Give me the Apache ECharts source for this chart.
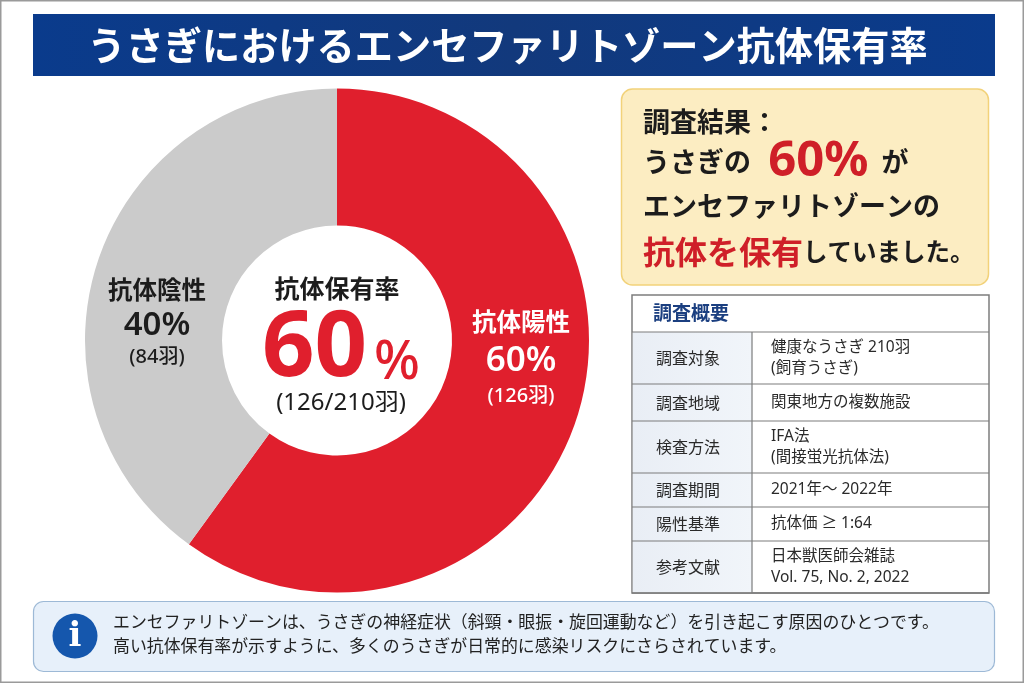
<!DOCTYPE html>
<html><head><meta charset="utf-8">
<style>html,body{margin:0;padding:0;background:#fff}#c{width:1024px;height:683px}</style>
<script src="https://cdn.jsdelivr.net/npm/echarts@6/dist/echarts.min.js"></script>
</head><body><div id="c"></div>
<script>
const FONT='"Noto Sans CJK JP","Noto Sans",sans-serif';
const LATIN='"Noto Sans","Noto Sans CJK JP",sans-serif';
const titleText='うさぎにおけるエンセファリトゾーン抗体保有率';
const sliceNames=['抗体陽性','抗体陰性'];
const sliceValues=[126,84];
const slicePercents=['60%','40%'];
const sliceCounts=['(126羽)','(84羽)'];
const centerHead='抗体保有率';
const centerBig='60';
const centerUnit='%';
const centerSub='(126/210羽)';
const tableTitle='調査概要';
const tableLabels=['調査対象','調査地域','検査方法','調査期間','陽性基準','参考文献'];
const tableValues=['健康なうさぎ 210羽\n(飼育うさぎ)','関東地方の複数施設','IFA法\n(間接蛍光抗体法)','2021年〜 2022年','抗体価 ≥ 1:64','日本獣医師会雑誌\nVol. 75, No. 2, 2022'];
const rowEdges=[332,384,421,473,507,541,593];
const noteLines=['エンセファリトゾーンは、うさぎの神経症状（斜頸・眼振・旋回運動など）を引き起こす原因のひとつです。','高い抗体保有率が示すように、多くのうさぎが日常的に感染リスクにさらされています。'];

const T=(x,y,text,size,fill,weight,align,extra)=>({type:'text',x,y,silent:true,style:Object.assign({text,fontFamily:FONT,fontSize:size,fill,fontWeight:weight||400,align:align||'left',verticalAlign:'middle'},extra||{})});
const R=(x,y,w,h,fill,stroke,lw,r)=>({type:'rect',silent:true,shape:{x,y,width:w,height:h,r:r||0},style:{fill,stroke:stroke||null,lineWidth:lw||0}});

const g=[];
g.push(R(0.5,0.5,1023,682,'none','#9a9a9a',2));
g.push(R(33,14,962,62,{type:'linear',x:0,y:0,x2:1,y2:0,colorStops:[{offset:0,color:'#0a3b8c'},{offset:.5,color:'#12397c'},{offset:1,color:'#0a3b8c'}]}));
g.push(T(507.5,45,titleText,38.2,'#fff',700,'center'));
// callout
g.push(R(621.5,89,367,196,'#fcedc2','#f2d27a',1.5,11));
const blk='#1c1c1c',red='#cf1f28';
g.push(T(643,122,'調査結果：',27,blk,600));
g.push({type:'text',x:643,y:162,silent:true,style:{fontFamily:FONT,verticalAlign:'middle',align:'left',
 text:'{a|うさぎの }{b|60%}{a| が}',rich:{a:{fontFamily:FONT,fontSize:27,fontWeight:600,fill:blk},b:{fontFamily:'"Noto Sans",sans-serif',fontSize:49,fontWeight:700,fill:red,padding:[0,7,0,11]}}}});
g.push(T(643,206,'エンセファリトゾーンの',27,blk,600));
g.push({type:'text',x:643,y:252,silent:true,style:{fontFamily:FONT,verticalAlign:'middle',align:'left',
 text:'{r|抗体を保有}{a|していました。}',rich:{a:{fontFamily:FONT,fontSize:24.5,fontWeight:600,fill:blk},r:{fontFamily:FONT,fontSize:32,fontWeight:700,fill:red}}}});
// table
g.push(R(632,295,357,298,'#fff','#7d7d7d',1.5));
g.push(T(653,313,tableTitle,19,'#1b3f80',700));
g.push(R(632.8,332,119.5,260.2,{type:'linear',x:0,y:0,x2:1,y2:0,colorStops:[{offset:0,color:'#e9eef5'},{offset:1,color:'#f1f5fa'}]}));
rowEdges.forEach((e,i)=>{
 g.push({type:'line',silent:true,shape:{x1:632,y1:e,x2:989,y2:e},style:{stroke:'#7d7d7d',lineWidth:i==6?1.5:1.2}});
 if(i<6){const m=(e+rowEdges[i+1])/2;
  g.push(T(656,m,tableLabels[i],16,'#2a2a2a',400));
  g.push(T(771,m,tableValues[i],15.5,'#2a2a2a',400,'left',{lineHeight:21,fontFamily:LATIN}));}
});
g.push({type:'line',silent:true,shape:{x1:752,y1:332,x2:752,y2:593},style:{stroke:'#7d7d7d',lineWidth:1.2}});
// note
g.push(R(33.5,601.5,961,70,'#e7f0fa','#9db9d6',1.2,10));
g.push({type:'circle',silent:true,shape:{cx:75,cy:636,r:22.5},style:{fill:'#1557ad'}});
g.push(T(75,637,'i',34,'#fff',700,'center',{fontFamily:'"DejaVu Serif",serif'}));
g.push(T(113,622,noteLines[0],16.9,'#222',400));
g.push(T(113,646,noteLines[1],16.9,'#222',400));
// centre labels
g.push(T(337,288,centerHead,25,'#1c1c1c',600,'center'));
g.push(T(314.5,350,centerBig,92,'#e01f2d',700,'center',{fontFamily:'"Noto Sans",sans-serif'}));
g.push(T(397,364,centerUnit,54,'#e01f2d',500,'center',{fontFamily:'"Noto Sans",sans-serif'}));
g.push(T(341,403,centerSub,24,'#1c1c1c',400,'center',{fontFamily:LATIN}));
// slice labels
const sl=(x,ys,i,c)=>{
 g.push(T(x,ys[0],sliceNames[i],24.5,c,600,'center'));
 g.push(T(x,ys[1],slicePercents[i],i==0?35:33,c,600,'center',{fontFamily:'"Noto Sans",sans-serif'}));
 g.push(T(x,ys[2],sliceCounts[i],20,c,500,'center',{fontFamily:LATIN}));
};
sl(521,[322,361,396],0,'#fff');
sl(157,[290,326,357],1,'#1c1c1c');

const chart=echarts.init(document.getElementById('c'),null,{renderer:'canvas'});
chart.setOption({
 animation:false,
 backgroundColor:'#fff',
 series:[{type:'pie',center:[337,340.5],radius:[115,252],startAngle:90,clockwise:true,silent:true,z:5,
  label:{show:false},labelLine:{show:false},
  data:[{name:sliceNames[0],value:sliceValues[0],itemStyle:{color:'#e01f2d'}},
        {name:sliceNames[1],value:sliceValues[1],itemStyle:{color:'#cbcbcb'}}]}],
 graphic:g.map(o=>Object.assign({z:o.z||10},o))
});
</script></body></html>
